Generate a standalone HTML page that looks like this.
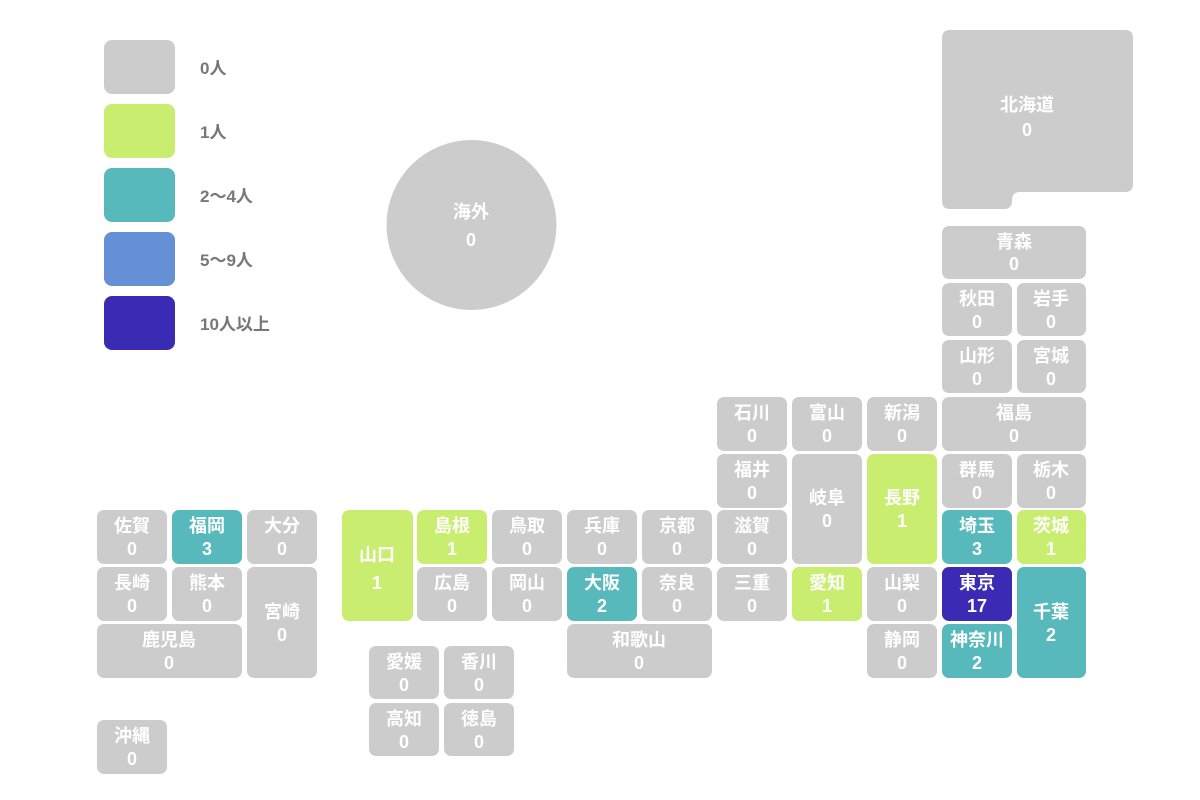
<!DOCTYPE html>
<html><head><meta charset="utf-8"><style>
html,body{margin:0;padding:0;background:#fff;width:1200px;height:800px;overflow:hidden}
svg text{font-family:"Liberation Sans","Noto Sans CJK JP",sans-serif;font-weight:bold}
.c text{fill:#fff;font-size:18px;text-anchor:middle}
.l{fill:#777;font-size:17px}
</style></head><body>
<svg width="1200" height="800" viewBox="0 0 1200 800" xmlns="http://www.w3.org/2000/svg">
<g>
<rect x="104" y="40" width="71" height="54" rx="8" fill="#cccccc"/>
<rect x="104" y="104" width="71" height="54" rx="8" fill="#c9ed6f"/>
<rect x="104" y="168" width="71" height="54" rx="8" fill="#58b9bd"/>
<rect x="104" y="232" width="71" height="54" rx="8" fill="#6690d6"/>
<rect x="104" y="296" width="71" height="54" rx="8" fill="#3b2bb4"/>
<text class="l" x="200" y="74">0人</text>
<text class="l" x="200" y="138">1人</text>
<text class="l" x="200" y="202">2～4人</text>
<text class="l" x="200" y="266">5～9人</text>
<text class="l" x="200" y="330">10人以上</text>
</g>
<g class="c">
<circle cx="471.5" cy="225" r="85" fill="#cccccc"/>
<text x="471" y="218">海外</text><text x="471" y="246">0</text>
<path d="M950 30 H1125 Q1133 30 1133 38 V184 Q1133 192 1125 192 H1020 Q1012 192 1012 200 V201 Q1012 209 1004 209 H950 Q942 209 942 201 V38 Q942 30 950 30 Z" fill="#cccccc"/>
<text x="1027" y="111">北海道</text><text x="1027" y="136">0</text>
</g>
<g class="c" id="cells">
<!-- generated manually -->
<rect x="97" y="510" width="70" height="54" rx="7" fill="#cccccc"/><text x="132" y="532">佐賀</text><text x="132" y="555">0</text>
<rect x="172" y="510" width="70" height="54" rx="7" fill="#58b9bd"/><text x="207" y="532">福岡</text><text x="207" y="555">3</text>
<rect x="247" y="510" width="70" height="54" rx="7" fill="#cccccc"/><text x="282" y="532">大分</text><text x="282" y="555">0</text>
<rect x="97" y="567" width="70" height="54" rx="7" fill="#cccccc"/><text x="132" y="589">長崎</text><text x="132" y="612">0</text>
<rect x="172" y="567" width="70" height="54" rx="7" fill="#cccccc"/><text x="207" y="589">熊本</text><text x="207" y="612">0</text>
<rect x="247" y="567" width="70" height="111" rx="7" fill="#cccccc"/><text x="282" y="618">宮崎</text><text x="282" y="641">0</text>
<rect x="97" y="624" width="145" height="54" rx="7" fill="#cccccc"/><text x="169" y="646">鹿児島</text><text x="169" y="669">0</text>
<rect x="97" y="720" width="70" height="54" rx="7" fill="#cccccc"/><text x="132" y="742">沖縄</text><text x="132" y="765">0</text>

<rect x="342" y="510" width="71" height="111" rx="7" fill="#c9ed6f"/><text x="377" y="561">山口</text><text x="377" y="589">1</text>
<rect x="417" y="510" width="70" height="54" rx="7" fill="#c9ed6f"/><text x="452" y="532">島根</text><text x="452" y="555">1</text>
<rect x="492" y="510" width="70" height="54" rx="7" fill="#cccccc"/><text x="527" y="532">鳥取</text><text x="527" y="555">0</text>
<rect x="417" y="567" width="70" height="54" rx="7" fill="#cccccc"/><text x="452" y="589">広島</text><text x="452" y="612">0</text>
<rect x="492" y="567" width="70" height="54" rx="7" fill="#cccccc"/><text x="527" y="589">岡山</text><text x="527" y="612">0</text>

<rect x="369" y="646" width="70" height="53" rx="7" fill="#cccccc"/><text x="404" y="668">愛媛</text><text x="404" y="691">0</text>
<rect x="444" y="646" width="70" height="53" rx="7" fill="#cccccc"/><text x="479" y="668">香川</text><text x="479" y="691">0</text>
<rect x="369" y="703" width="70" height="53" rx="7" fill="#cccccc"/><text x="404" y="725">高知</text><text x="404" y="748">0</text>
<rect x="444" y="703" width="70" height="53" rx="7" fill="#cccccc"/><text x="479" y="725">徳島</text><text x="479" y="748">0</text>

<rect x="567" y="510" width="70" height="54" rx="7" fill="#cccccc"/><text x="602" y="532">兵庫</text><text x="602" y="555">0</text>
<rect x="642" y="510" width="70" height="54" rx="7" fill="#cccccc"/><text x="677" y="532">京都</text><text x="677" y="555">0</text>
<rect x="567" y="567" width="70" height="54" rx="7" fill="#58b9bd"/><text x="602" y="589">大阪</text><text x="602" y="612">2</text>
<rect x="642" y="567" width="70" height="54" rx="7" fill="#cccccc"/><text x="677" y="589">奈良</text><text x="677" y="612">0</text>
<rect x="567" y="624" width="145" height="54" rx="7" fill="#cccccc"/><text x="639" y="646">和歌山</text><text x="639" y="669">0</text>

<rect x="717" y="397" width="70" height="54" rx="7" fill="#cccccc"/><text x="752" y="419">石川</text><text x="752" y="442">0</text>
<rect x="717" y="454" width="70" height="54" rx="7" fill="#cccccc"/><text x="752" y="476">福井</text><text x="752" y="499">0</text>
<rect x="717" y="510" width="70" height="54" rx="7" fill="#cccccc"/><text x="752" y="532">滋賀</text><text x="752" y="555">0</text>
<rect x="717" y="567" width="70" height="54" rx="7" fill="#cccccc"/><text x="752" y="589">三重</text><text x="752" y="612">0</text>
<rect x="792" y="397" width="70" height="54" rx="7" fill="#cccccc"/><text x="827" y="419">富山</text><text x="827" y="442">0</text>
<rect x="792" y="454" width="70" height="110" rx="7" fill="#cccccc"/><text x="827" y="504">岐阜</text><text x="827" y="527">0</text>
<rect x="792" y="567" width="70" height="54" rx="7" fill="#c9ed6f"/><text x="827" y="589">愛知</text><text x="827" y="612">1</text>
<rect x="867" y="397" width="70" height="54" rx="7" fill="#cccccc"/><text x="902" y="419">新潟</text><text x="902" y="442">0</text>
<rect x="867" y="454" width="70" height="110" rx="7" fill="#c9ed6f"/><text x="902" y="504">長野</text><text x="902" y="527">1</text>
<rect x="867" y="567" width="70" height="54" rx="7" fill="#cccccc"/><text x="902" y="589">山梨</text><text x="902" y="612">0</text>
<rect x="867" y="624" width="70" height="54" rx="7" fill="#cccccc"/><text x="902" y="646">静岡</text><text x="902" y="669">0</text>

<rect x="942" y="226" width="144" height="53" rx="7" fill="#cccccc"/><text x="1014" y="248">青森</text><text x="1014" y="270">0</text>
<rect x="942" y="283" width="70" height="53" rx="7" fill="#cccccc"/><text x="977" y="305">秋田</text><text x="977" y="328">0</text>
<rect x="1017" y="283" width="69" height="53" rx="7" fill="#cccccc"/><text x="1051" y="305">岩手</text><text x="1051" y="328">0</text>
<rect x="942" y="340" width="70" height="53" rx="7" fill="#cccccc"/><text x="977" y="362">山形</text><text x="977" y="385">0</text>
<rect x="1017" y="340" width="69" height="53" rx="7" fill="#cccccc"/><text x="1051" y="362">宮城</text><text x="1051" y="385">0</text>
<rect x="942" y="397" width="144" height="54" rx="7" fill="#cccccc"/><text x="1014" y="419">福島</text><text x="1014" y="442">0</text>
<rect x="942" y="454" width="70" height="54" rx="7" fill="#cccccc"/><text x="977" y="476">群馬</text><text x="977" y="499">0</text>
<rect x="1017" y="454" width="69" height="54" rx="7" fill="#cccccc"/><text x="1051" y="476">栃木</text><text x="1051" y="499">0</text>
<rect x="942" y="510" width="70" height="54" rx="7" fill="#58b9bd"/><text x="977" y="532">埼玉</text><text x="977" y="555">3</text>
<rect x="1017" y="510" width="69" height="54" rx="7" fill="#c9ed6f"/><text x="1051" y="532">茨城</text><text x="1051" y="555">1</text>
<rect x="942" y="567" width="70" height="54" rx="7" fill="#3b2bb4"/><text x="977" y="589">東京</text><text x="977" y="612">17</text>
<rect x="1017" y="567" width="69" height="111" rx="7" fill="#58b9bd"/><text x="1051" y="618">千葉</text><text x="1051" y="641">2</text>
<rect x="942" y="624" width="70" height="54" rx="7" fill="#58b9bd"/><text x="977" y="646">神奈川</text><text x="977" y="669">2</text>
</g>
</svg>
</body></html>
